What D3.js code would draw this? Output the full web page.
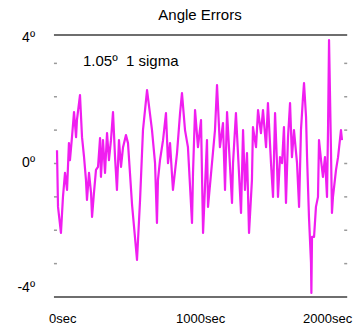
<!DOCTYPE html>
<html>
<head>
<meta charset="utf-8">
<script src="https://cdn.jsdelivr.net/npm/d3@7"></script>
<style>
  html, body { margin: 0; padding: 0; background: #fff; }
  svg { display: block; }
</style>
</head>
<body>
<svg id="chart"></svg>
<script>
// Data: time in seconds, angle error in degrees
const seconds = [
    0, 8, 31, 47, 63, 79, 94, 102, 118, 134, 150, 157, 181, 197, 213, 228, 236, 252, 268, 276,
    291, 307, 323, 339, 346, 362, 378, 394, 409, 425, 441, 457, 472, 488, 504, 520, 543, 559, 591, 630,
    654, 677, 709, 748, 772, 787, 795, 811, 835, 858, 874, 890, 913, 945, 969, 984, 1008, 1031, 1063, 1071,
    1087, 1110, 1134, 1150, 1181, 1189, 1244, 1260, 1283, 1307, 1323, 1339, 1354, 1378, 1386, 1409, 1425, 1449, 1465, 1480,
    1496, 1512, 1535, 1543, 1567, 1583, 1606, 1622, 1646, 1661, 1685, 1701, 1717, 1732, 1740, 1756, 1772, 1787, 1803, 1819,
    1835, 1850, 1866, 1890, 1906, 1921, 1937, 1945, 1961, 1969, 1984, 2000, 2003, 2008, 2024, 2039, 2055, 2063, 2079, 2094,
    2110, 2126, 2134, 2142, 2157, 2165, 2173, 2197, 2213, 2236, 2244
];
const angleErrors = [
    0.40, -1.30, -2.08, -1.00, -0.28, -0.79, 0.61, 0.10, 0.79, 1.54, 0.79, 1.30, 2.05, 0.79, 0.19, -0.49, -1.09, -0.28, -0.88, -1.60,
    -0.88, -0.19, -0.10, 0.76, -0.40, 0.70, -0.28, 0.91, 0.10, 0.70, 1.54, 0.19, -0.79, 0.70, -0.10, 0.49, 0.85, 0.61, -1.24, -2.89,
    -1.09, 1.00, 2.20, 1.00, 0.01, -1.78, -0.49, 0.10, 0.70, 1.51, 0.01, 0.61, -0.79, 0.31, 1.51, 2.11, 1.00, 0.49, -1.78, -0.28,
    1.60, 0.49, 1.30, -2.08, 0.70, -1.30, 1.00, 2.35, 0.49, 1.21, -0.79, 1.54, 0.49, -1.18, 0.01, 1.51, 0.31, -1.48, 1.00, -0.79,
    0.31, -2.08, -0.49, 1.09, 0.49, 1.60, 0.91, 1.60, 0.49, 1.81, 0.01, -1.00, 1.51, 0.01, -1.00, 0.19, 0.01, 1.09, -1.18, 0.79,
    1.81, 0.19, 1.00, 0.01, -1.30, 1.00, 1.99, 2.41, 1.39, 0.19, -1.60, -2.98, -3.88, -2.20, -2.20, -1.30, -1.00, 0.70, 0.10, -0.40,
    0.19, -1.00, 1.00, 3.70, 0.49, -1.48, -1.00, -0.19, 0.19, 1.00, 0.70
];
const yLabelValues = [4, 0, -4];
const minorTicks = [-3, -2, -1, 0, 1, 2, 3];
const xLabelValues = [0, 1000, 2000];
const sigmaText = "1.05º  1 sigma";

const width = 360;
const height = 326;
const font = "'Liberation Sans', Arial, sans-serif";

const svg = d3.select("#chart")
    .attr("width", width)
    .attr("height", height);

// Scales
const x = d3.scaleLinear().domain([0, 2000]).range([57, 311]);
const y = d3.scaleLinear().domain([-4, 3.85]).range([297, 35]);
const labelY = d3.scaleLinear().domain([-4, 4]).range([292, 42]);

const frameLeft = x(-24);
const frameRight = x(2285);

// Top and bottom frame lines
svg.append("g")
    .selectAll("line")
    .data([y.domain()[1], y.domain()[0]])
    .join("line")
    .attr("x1", frameLeft)
    .attr("x2", frameRight)
    .attr("y1", d => y(d))
    .attr("y2", d => y(d))
    .attr("stroke", "#6e6e6e")
    .attr("stroke-width", 2);

// Minor ticks on both sides
[frameLeft, frameRight - 3].forEach(px => {
    svg.append("g")
        .selectAll("line")
        .data(minorTicks)
        .join("line")
        .attr("x1", px)
        .attr("x2", px + 3)
        .attr("y1", d => y(d))
        .attr("y2", d => y(d))
        .attr("stroke", "#9a9a9a")
        .attr("stroke-width", 1.5);
});

// Angle error trace
const points = seconds.map((s, i) => [s, angleErrors[i]]);
const line = d3.line()
    .x(d => x(d[0]))
    .y(d => y(d[1]));

svg.append("path")
    .datum(points)
    .attr("d", line)
    .attr("fill", "none")
    .attr("stroke", "#f01ef0")
    .attr("stroke-width", 2.2)
    .attr("stroke-linejoin", "round");

// Y labels
svg.append("g")
    .selectAll("text")
    .data(yLabelValues)
    .join("text")
    .attr("x", 35)
    .attr("y", d => labelY(d))
    .attr("text-anchor", "end")
    .attr("font-family", font)
    .attr("font-size", 14)
    .attr("fill", "#000")
    .text(d => d + "º");

// X labels
svg.append("g")
    .selectAll("text")
    .data(xLabelValues)
    .join("text")
    .attr("x", d => x(d) - 8)
    .attr("y", 323)
    .attr("font-family", font)
    .attr("font-size", 13)
    .attr("fill", "#000")
    .text(d => d + "sec");

// Title
svg.append("text")
    .attr("x", 200)
    .attr("y", 20)
    .attr("text-anchor", "middle")
    .attr("font-family", font)
    .attr("font-size", 15)
    .attr("fill", "#000")
    .text("Angle Errors");

// Sigma annotation
svg.append("text")
    .attr("x", 83)
    .attr("y", 66)
    .attr("font-family", font)
    .attr("font-size", 15)
    .attr("fill", "#000")
    .style("white-space", "pre")
    .text(sigmaText);
</script>
</body>
</html>
